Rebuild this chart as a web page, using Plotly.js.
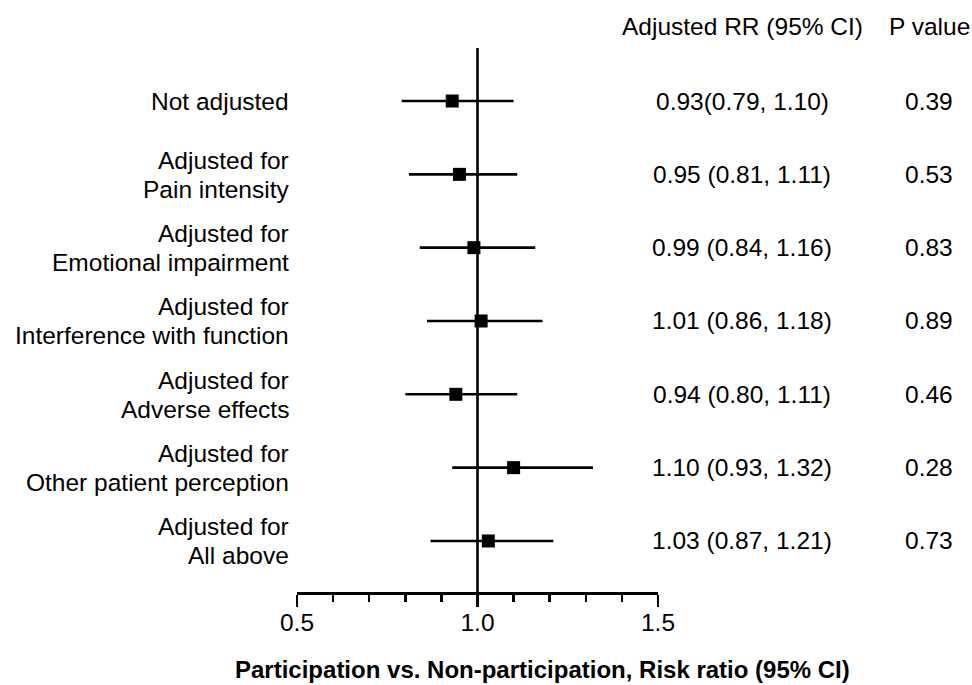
<!DOCTYPE html>
<html>
<head>
<meta charset="utf-8">
<script src="https://cdn.plot.ly/plotly-3.0.1.min.js"></script>
<style>html,body{margin:0;padding:0;background:#fff;}#chart{width:972px;height:685px;}</style>
</head>
<body>
<div id="chart"></div>
<script>
// ---- data ----
var labelLine1 = ["Not adjusted", "Adjusted for", "Adjusted for", "Adjusted for", "Adjusted for", "Adjusted for", "Adjusted for"];
var labelLine2 = ["", "Pain intensity", "Emotional impairment", "Interference with function", "Adverse effects", "Other patient perception", "All above"];
var estimate = [0.93, 0.95, 0.99, 1.01, 0.94, 1.10, 1.03];
var ciLower = [0.79, 0.81, 0.84, 0.86, 0.80, 0.93, 0.87];
var ciUpper = [1.10, 1.11, 1.16, 1.18, 1.11, 1.32, 1.21];
var rrText = ["0.93(0.79, 1.10)", "0.95 (0.81, 1.11)", "0.99 (0.84, 1.16)", "1.01 (0.86, 1.18)", "0.94 (0.80, 1.11)", "1.10 (0.93, 1.32)", "1.03 (0.87, 1.21)"];
var pText = ["0.39", "0.53", "0.83", "0.89", "0.46", "0.28", "0.73"];
var headerRR = "Adjusted RR (95% CI)";
var headerP = "P value";
var xTitle = "Participation vs. Non-participation, Risk ratio (95% CI)";

var rows = estimate.map(function(_, i){ return i; });
var FONT = "Liberation Sans, Arial, sans-serif";
var FS = 24.5;

var trace = {
  type: "scatter",
  mode: "markers",
  x: estimate,
  y: rows,
  marker: {symbol: "square", size: 13, color: "#000"},
  error_x: {
    type: "data",
    symmetric: false,
    array: estimate.map(function(v, i){ return ciUpper[i] - v; }),
    arrayminus: estimate.map(function(v, i){ return v - ciLower[i]; }),
    width: 0,
    thickness: 2.6,
    color: "#000"
  },
  cliponaxis: false,
  hoverinfo: "skip"
};

function tfont(){ return {family: FONT, size: FS, color: "#000"}; }
var ann = [];
var xRR = 1.2327, xP = 1.7507; // paper coords for the text columns
rows.forEach(function(i){
  if (labelLine2[i] === "") {
    ann.push({x: 0.5, y: i, xref: "x", yref: "y", xshift: -6, xanchor: "right", yanchor: "middle",
      text: labelLine1[i], showarrow: false, font: tfont()});
  } else {
    ann.push({x: 0.5, y: i, xref: "x", yref: "y", xshift: -6, yshift: 14, xanchor: "right", yanchor: "middle",
      text: labelLine1[i], showarrow: false, font: tfont()});
    ann.push({x: 0.5, y: i, xref: "x", yref: "y", xshift: -6, yshift: -15, xanchor: "right", yanchor: "middle",
      text: labelLine2[i], showarrow: false, font: tfont()});
  }
  ann.push({x: xRR, y: i, xref: "paper", yref: "y", xanchor: "center", yanchor: "middle",
    text: rrText[i], showarrow: false, font: tfont()});
  ann.push({x: xP, y: i, xref: "paper", yref: "y", xanchor: "center", yanchor: "middle",
    text: pText[i], showarrow: false, font: tfont()});
});
ann.push({x: xRR, y: 1.0404, xref: "paper", yref: "paper", xanchor: "center", yanchor: "middle",
  text: headerRR, showarrow: false, font: tfont()});
ann.push({x: xP, y: 1.0404, xref: "paper", yref: "paper", xanchor: "center", yanchor: "middle",
  text: headerP, showarrow: false, font: tfont()});
ann.push({x: 0.6787, y: -0.142, xref: "paper", yref: "paper", xanchor: "center", yanchor: "middle",
  text: "<b>" + xTitle + "</b>", showarrow: false, font: {family: FONT, size: 24, color: "#000"}});

var layout = {
  width: 972, height: 685,
  margin: {l: 297, r: 314, t: 48, b: 93, pad: 0},
  paper_bgcolor: "#fff", plot_bgcolor: "#fff",
  showlegend: false,
  font: {family: FONT, size: FS, color: "#000"},
  xaxis: {
    range: [0.5, 1.5], tickmode: "linear", tick0: 0.5, dtick: 0.5, tickformat: ".1f",
    showline: true, linewidth: 2.5, linecolor: "#000", mirror: false,
    ticks: "outside", ticklen: 12, tickwidth: 2.5, tickcolor: "#000",
    ticklabelstandoff: -5,
    showgrid: false, zeroline: false,
    tickfont: tfont(),
    minor: {tick0: 0.5, dtick: 0.1, ticks: "outside", ticklen: 7, tickwidth: 2.5, tickcolor: "#000", showgrid: false},
    fixedrange: true
  },
  yaxis: {
    range: [6.696, -0.723], showline: false, showticklabels: false, ticks: "",
    showgrid: false, zeroline: false, fixedrange: true
  },
  shapes: [{type: "line", xref: "x", yref: "paper", x0: 1, x1: 1, y0: 0, y1: 1,
    line: {color: "#000", width: 2.6}}],
  annotations: ann
};

Plotly.newPlot("chart", [trace], layout, {displayModeBar: false, staticPlot: true});
</script>
</body>
</html>
